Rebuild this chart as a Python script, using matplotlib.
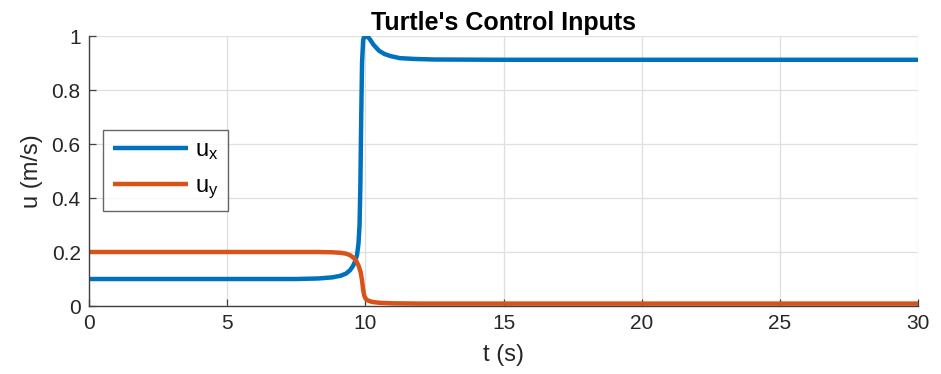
import matplotlib.pyplot as plt

plt.rcParams['font.family'] = ['Liberation Sans', 'DejaVu Sans']
plt.rcParams['mathtext.fontset'] = 'custom'
plt.rcParams['mathtext.rm'] = 'Liberation Sans'
plt.rcParams['mathtext.it'] = 'Liberation Sans'

# control input samples
t_x = [0, 7.5, 8.3, 8.8, 9.1, 9.3, 9.45, 9.55, 9.63, 9.7, 9.75, 9.79, 9.82, 9.85, 9.88,
       9.92, 9.97, 10.05, 10.15, 10.3, 10.5, 10.7, 10.9, 11.25, 11.8, 12.5, 15, 30]
u_x = [0.1, 0.1, 0.102, 0.106, 0.112, 0.12, 0.133, 0.148, 0.165, 0.19, 0.23, 0.3, 0.45,
       0.7, 0.9, 0.985, 1.0, 1.0, 0.99, 0.967, 0.945, 0.933, 0.926, 0.918, 0.915, 0.913,
       0.912, 0.912]

t_y = [0, 8.3, 8.8, 9.1, 9.3, 9.45, 9.58, 9.68, 9.76, 9.83, 9.88, 9.92, 9.96, 10.02,
       10.1, 10.25, 10.5, 11.0, 12, 30]
u_y = [0.2, 0.2, 0.199, 0.197, 0.194, 0.188, 0.178, 0.165, 0.148, 0.125, 0.095, 0.06,
       0.038, 0.026, 0.02, 0.015, 0.012, 0.01, 0.009, 0.009]

blue = '#0072BD'
orange = '#D95319'

fig = plt.figure(figsize=(9.41, 3.74), dpi=100)
ax = fig.add_axes([0.0946, 0.1818, 0.881, 0.7219])

ax.plot(t_x, u_x, color=blue, lw=3.2, label=r'$\mathrm{u}_\mathrm{x}$', solid_capstyle='butt')
ax.plot(t_y, u_y, color=orange, lw=3.2, label=r'$\mathrm{u}_\mathrm{y}$', solid_capstyle='butt')

ax.set_xlim(0, 30)
ax.set_ylim(0, 1)
ax.set_xticks([0, 5, 10, 15, 20, 25, 30])
ax.set_yticks([0, 0.2, 0.4, 0.6, 0.8, 1])
ax.set_yticklabels(['0', '0.2', '0.4', '0.6', '0.8', '1'])
ax.grid(True, color='#dfdfdf', lw=0.9)
ax.set_axisbelow(True)

for side in ['top', 'right']:
    ax.spines[side].set_visible(False)
for side in ['left', 'bottom']:
    ax.spines[side].set_color('#404040')
    ax.spines[side].set_linewidth(1.0)
ax.tick_params(direction='in', length=5, width=0.9, color='#404040',
               labelsize=15, labelcolor='#262626', pad=6)

ax.set_xlabel('t (s)', fontsize=17, color='#262626', labelpad=8)
ax.set_ylabel('u (m/s)', fontsize=17, color='#262626', labelpad=6)
ax.set_title("Turtle's Control Inputs", fontsize=18, fontweight='bold', pad=4)

leg = ax.legend(loc='upper left', bbox_to_anchor=(0.017, 0.652), fontsize=17,
                frameon=True, fancybox=False, handlelength=3.2, handletextpad=0.3,
                borderpad=0.4, labelspacing=0.55, borderaxespad=0)
leg.get_frame().set_edgecolor('#404040')
leg.get_frame().set_linewidth(1.0)

fig.savefig('out.png', dpi=100)
